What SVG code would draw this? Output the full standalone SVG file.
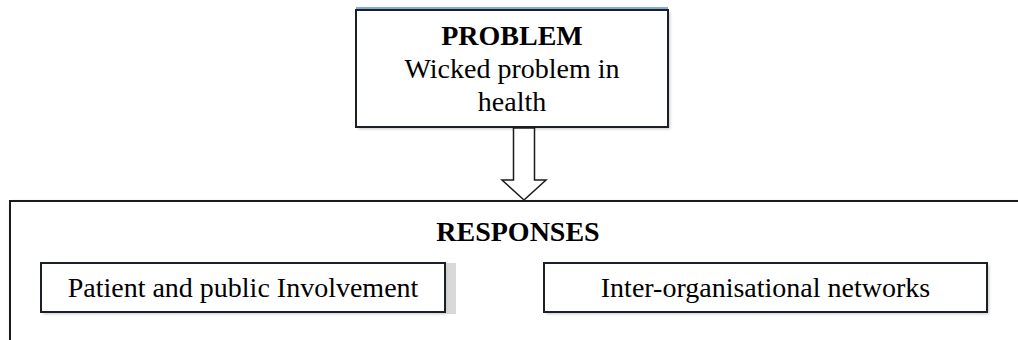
<svg xmlns="http://www.w3.org/2000/svg" width="1018" height="340" viewBox="0 0 1018 340">
  <defs>
    <style>
      .box { fill: #ffffff; stroke: #1b1f26; stroke-width: 2; }
      .frame { fill: #ffffff; stroke: #1b1b1b; stroke-width: 2; }
      .label { font-family: "Liberation Serif", "Times New Roman", serif; font-size: 28px; fill: #000000; text-anchor: middle; }
      .bold { font-weight: bold; }
      .arrow { fill: #ffffff; stroke: #1b1b1b; stroke-width: 1.5; stroke-linejoin: miter; }
    </style>
    <filter id="soft" x="-5%" y="-5%" width="110%" height="120%">
      <feGaussianBlur stdDeviation="1.5"/>
    </filter>
  </defs>

  <rect width="1018" height="340" fill="#ffffff"/>

  <!-- problem box -->
  <g id="problem">
    <rect x="358" y="12" width="312" height="117" fill="#c8c8c8" filter="url(#soft)"/>
    <rect class="box" x="356" y="10" width="312" height="117"/>
    <line x1="356" y1="8" x2="668" y2="8" stroke="#5b8fd6" stroke-width="1.5"/>
    <text class="label bold" x="512" y="45">PROBLEM</text>
    <text class="label" x="512" y="78">Wicked problem in</text>
    <text class="label" x="512" y="111">health</text>
  </g>

  <!-- block arrow from problem to responses -->
  <g id="connectors">
    <polygon class="arrow" points="513.5,128 534.5,128 534.5,180 546,180 524,200 502,180 513.5,180"/>
  </g>

  <!-- responses frame, open below and to the right -->
  <g id="responses">
    <path d="M12,342 L12,203 L1020,203" fill="none" stroke="#bdbdbd" stroke-width="3" filter="url(#soft)"/>
    <path class="frame" d="M10,342 L10,201 L1020,201 L1020,342"/>
    <text class="label bold" x="518" y="241">RESPONSES</text>
  </g>

  <!-- patient and public involvement -->
  <g id="ppi">
    <rect x="445" y="263" width="11" height="51" fill="#d9d9d9"/>
    <rect x="43" y="265" width="404" height="49" fill="#c8c8c8" filter="url(#soft)"/>
    <rect class="box" x="41" y="263" width="404" height="49"/>
    <text class="label" x="243" y="297">Patient and public Involvement</text>
  </g>

  <!-- inter-organisational networks -->
  <g id="networks">
    <rect x="546" y="265" width="443" height="49" fill="#c8c8c8" filter="url(#soft)"/>
    <rect class="box" x="544" y="263" width="443" height="49"/>
    <text class="label" x="765.5" y="297">Inter-organisational networks</text>
  </g>
</svg>
